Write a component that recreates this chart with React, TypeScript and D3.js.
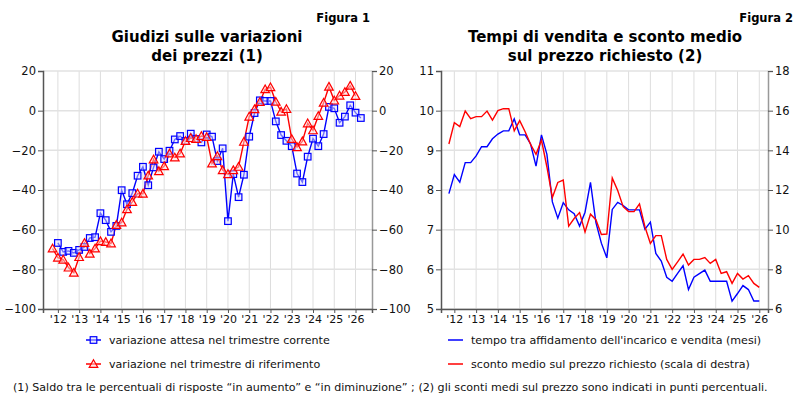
import { useEffect, useRef } from 'react'
import * as d3 from 'd3'

// quarterly index: 0 = 2012 Q1
const yearTicks = ["'12", "'13", "'14", "'15", "'16", "'17", "'18", "'19", "'20", "'21", "'22", "'23", "'24", "'25", "'26"]

// Figura 1 -- saldo giudizi sui prezzi
const attesaStart = 0
const attesa = [-66.7, -71.2, -70.7, -71.7, -70.2, -68.7, -64.2, -63.8, -51.7, -55.2, -61.1, -58.1, -40.1, -47.2, -41.6, -32.8, -28.3, -37.6, -28.6, -20.7, -24.4, -20.2, -14.5, -12.8, -15.3, -11.6, -14.3, -16.0, -12.0, -13.1, -25.4, -19.0, -55.7, -32.0, -43.6, -32.3, -13.1, -1.2, 5.2, 4.9, 4.9, -5.4, -12.3, -15.2, -17.9, -31.7, -36.0, -23.2, -14.1, -17.9, -11.8, 1.9, 1.2, -6.1, -3.0, 2.7, -1.0, -3.7]
const riferimentoStart = -1
const riferimento = [-69.5, -74.1, -75.1, -79.1, -81.7, -73.8, -66.7, -72.1, -69.5, -65.8, -66.2, -66.9, -57.6, -56.4, -49.7, -46.0, -41.8, -41.9, -32.7, -24.6, -30.5, -28.0, -21.6, -23.6, -21.6, -15.3, -13.8, -14.3, -12.8, -13.3, -26.6, -22.9, -30.0, -32.0, -30.0, -28.3, -15.7, -3.0, 0.7, 4.4, 10.8, 11.8, 4.5, -0.5, 0.8, -14.3, -18.4, -15.5, -6.4, -9.9, -2.7, 4.0, 12.1, 5.1, 7.6, 9.4, 12.6, 7.4]
const fig1Ticks = [20, 0, -20, -40, -60, -80, -100]

// Figura 2 -- tempi di vendita (mesi) e sconto medio (punti %)
const fig2Start = -1
const tempoVendita = [7.91, 8.39, 8.20, 8.69, 8.69, 8.86, 9.09, 9.09, 9.29, 9.41, 9.49, 9.49, 9.79, 9.39, 9.39, 9.16, 8.60, 9.39, 8.90, 7.70, 7.29, 7.68, 7.50, 7.40, 7.09, 7.44, 8.19, 7.18, 6.66, 6.29, 7.51, 7.69, 7.61, 7.50, 7.50, 7.50, 7.01, 7.19, 6.40, 6.21, 5.80, 5.70, 5.90, 6.09, 5.49, 5.80, 5.89, 5.98, 5.70, 5.70, 5.70, 5.70, 5.20, 5.39, 5.59, 5.49, 5.20, 5.20]
const scontoMedio = [14.32, 15.4, 15.2, 15.98, 15.6, 15.7, 15.7, 15.98, 15.52, 16.0, 16.1, 16.1, 14.98, 15.5, 14.94, 14.3, 13.8, 14.52, 13.16, 11.62, 12.38, 12.5, 10.18, 10.56, 10.86, 9.88, 10.78, 10.5, 9.76, 9.78, 12.6, 11.97, 11.16, 10.91, 10.91, 11.3, 10.15, 9.31, 9.7, 9.7, 8.5, 8.0, 8.38, 8.77, 8.22, 8.5, 8.5, 8.59, 8.3, 8.5, 7.79, 7.88, 7.29, 7.79, 7.51, 7.68, 7.29, 7.09]
const fig2LeftTicks = [11, 10, 9, 8, 7, 6, 5]
const fig2RightTicks = [18, 16, 14, 12, 10, 8, 6]

const font = "'DejaVu Sans', sans-serif"
const blue = '#0000ff'
const red = '#ff0000'

function frame(svg, x, y, yR, leftTicks, rightTicks, fmt) {
	const [x0, x1] = x.range()
	const [yb, yt] = y.range()

	// grid
	svg.append('g').selectAll('line').data(yearTicks).enter().append('line')
		.attr('x1', (d, i) => x(i * 4)).attr('x2', (d, i) => x(i * 4))
		.attr('y1', yt).attr('y2', yb)
		.attr('stroke', '#dddddd').attr('stroke-width', 1)
	svg.append('g').selectAll('line').data(leftTicks).enter().append('line')
		.attr('x1', x0).attr('x2', x1)
		.attr('y1', d => y(d)).attr('y2', d => y(d))
		.attr('stroke', '#e2e2e2').attr('stroke-width', 1.5)

	// left axis
	svg.append('g')
		.attr('transform', `translate(${x0},0)`)
		.call(d3.axisLeft(y).tickValues(leftTicks).tickSize(5).tickPadding(2).tickFormat(fmt))
		.call(g => g.select('.domain').attr('stroke', '#555').attr('stroke-width', 1.5))
		.call(g => g.selectAll('.tick line').attr('stroke', '#555'))
		.call(g => g.selectAll('text').attr('font-family', font).attr('font-size', 11.5).attr('fill', '#111'))

	// right axis
	svg.append('g')
		.attr('transform', `translate(${x1},0)`)
		.call(d3.axisRight(yR).tickValues(rightTicks).tickSize(5).tickPadding(2).tickFormat(fmt))
		.call(g => g.select('.domain').attr('stroke', '#999').attr('stroke-width', 1.5))
		.call(g => g.selectAll('.tick line').attr('stroke', '#555'))
		.call(g => g.selectAll('text').attr('font-family', font).attr('font-size', 11.5).attr('fill', '#111'))

	// bottom axis
	svg.append('g')
		.attr('transform', `translate(0,${yb})`)
		.call(d3.axisBottom(x).tickValues(yearTicks.map((d, i) => i * 4)).tickSize(4).tickPadding(2)
			.tickFormat((d, i) => yearTicks[i]))
		.call(g => g.select('.domain').attr('stroke', '#555').attr('stroke-width', 1.5))
		.call(g => g.selectAll('.tick line').attr('stroke', '#555'))
		.call(g => g.selectAll('text').attr('font-family', font).attr('font-size', 11).attr('fill', '#111'))
}

function titles(svg, cx, right, lines, fig) {
	svg.append('text')
		.attr('x', right).attr('y', 22)
		.attr('text-anchor', 'end')
		.attr('font-family', font).attr('font-size', 11.5).attr('font-weight', 'bold')
		.text(fig)
	lines.forEach((t, i) => {
		svg.append('text')
			.attr('x', cx).attr('y', 42 + i * 19)
			.attr('text-anchor', 'middle')
			.attr('font-family', font).attr('font-size', 15).attr('font-weight', 'bold')
			.text(t)
	})
}

function squareMark(g, cx, cy) {
	g.append('rect')
		.attr('x', cx - 3.3).attr('y', cy - 3.3).attr('width', 6.6).attr('height', 6.6)
		.attr('fill', 'rgba(220,220,255,0.5)').attr('stroke', blue).attr('stroke-width', 1.2)
}

function triMark(g, cx, cy) {
	const s = 4.3
	g.append('path')
		.attr('d', `M${cx},${cy - s}L${cx + s},${cy + s * 0.8}L${cx - s},${cy + s * 0.8}Z`)
		.attr('fill', 'rgba(255,220,220,0.5)').attr('stroke', red).attr('stroke-width', 1.2)
}

function legendLine(svg, x, y, color, label, mark) {
	svg.append('line')
		.attr('x1', x).attr('x2', x + 15).attr('y1', y).attr('y2', y)
		.attr('stroke', color).attr('stroke-width', 1.5)
	if (mark) mark(svg, x + 7.5, y)
	svg.append('text')
		.attr('x', x + 23).attr('y', y + 4)
		.attr('font-family', font).attr('font-size', 11.1).attr('fill', '#111')
		.text(label)
}

export default function App() {
	const ref = useRef(null)

	useEffect(() => {
		const svg = d3.select(ref.current)
		svg.selectAll('*').remove()

		// ---- Figura 1
		const x1 = d3.scaleLinear().domain([-2.8, 59.1]).range([43, 372])
		const y1 = d3.scaleLinear().domain([-100, 20]).range([309, 71])
		const y1r = d3.scaleLinear().domain([-100, 20]).range([309, 71])
		frame(svg, x1, y1, y1r, fig1Ticks, fig1Ticks, d3.format('d'))
		titles(svg, 207, 370, ['Giudizi sulle variazioni', 'dei prezzi (1)'], 'Figura 1')

		const line1 = d3.line<number>().x((d, i) => x1(attesaStart + i)).y(d => y1(d))
		svg.append('path').attr('d', line1(attesa)).attr('fill', 'none').attr('stroke', blue).attr('stroke-width', 1.4)
		const line1r = d3.line<number>().x((d, i) => x1(riferimentoStart + i)).y(d => y1(d))
		svg.append('path').attr('d', line1r(riferimento)).attr('fill', 'none').attr('stroke', red).attr('stroke-width', 1.4)

		const gm = svg.append('g')
		attesa.forEach((d, i) => squareMark(gm, x1(attesaStart + i), y1(d)))
		riferimento.forEach((d, i) => triMark(gm, x1(riferimentoStart + i), y1(d)))

		legendLine(svg, 86, 340, blue, 'variazione attesa nel trimestre corrente', squareMark)
		legendLine(svg, 86, 364, red, 'variazione nel trimestre di riferimento', triMark)

		// ---- Figura 2
		const x2 = d3.scaleLinear().domain([-2.45, 57.6]).range([441, 768])
		const y2 = d3.scaleLinear().domain([5, 11]).range([309, 71])
		const y2r = d3.scaleLinear().domain([6, 18]).range([309, 71])
		frame(svg, x2, y2, y2r, fig2LeftTicks, fig2RightTicks, d3.format('d'))
		titles(svg, 605, 793, ['Tempi di vendita e sconto medio', 'sul prezzo richiesto (2)'], 'Figura 2')

		const line2 = d3.line<number>().x((d, i) => x2(fig2Start + i)).y(d => y2(d))
		svg.append('path').attr('d', line2(tempoVendita)).attr('fill', 'none').attr('stroke', blue).attr('stroke-width', 1.4)
		const line2r = d3.line<number>().x((d, i) => x2(fig2Start + i)).y(d => y2r(d))
		svg.append('path').attr('d', line2r(scontoMedio)).attr('fill', 'none').attr('stroke', red).attr('stroke-width', 1.4)

		legendLine(svg, 448, 340, blue, "tempo tra affidamento dell'incarico e vendita (mesi)", null)
		legendLine(svg, 448, 364, red, 'sconto medio sul prezzo richiesto (scala di destra)', null)

		svg.append('text')
			.attr('x', 13).attr('y', 391)
			.attr('font-family', font).attr('font-size', 11.1).attr('fill', '#111')
			.text('(1) Saldo tra le percentuali di risposte \u201cin aumento\u201d e \u201cin diminuzione\u201d ; (2) gli sconti medi sul prezzo sono indicati in punti percentuali.')
	}, [])

	return (
		<svg ref={ref} width={809} height={400} style={{ position: 'absolute', left: 0, top: 0, background: '#fff' }} />
	)
}
